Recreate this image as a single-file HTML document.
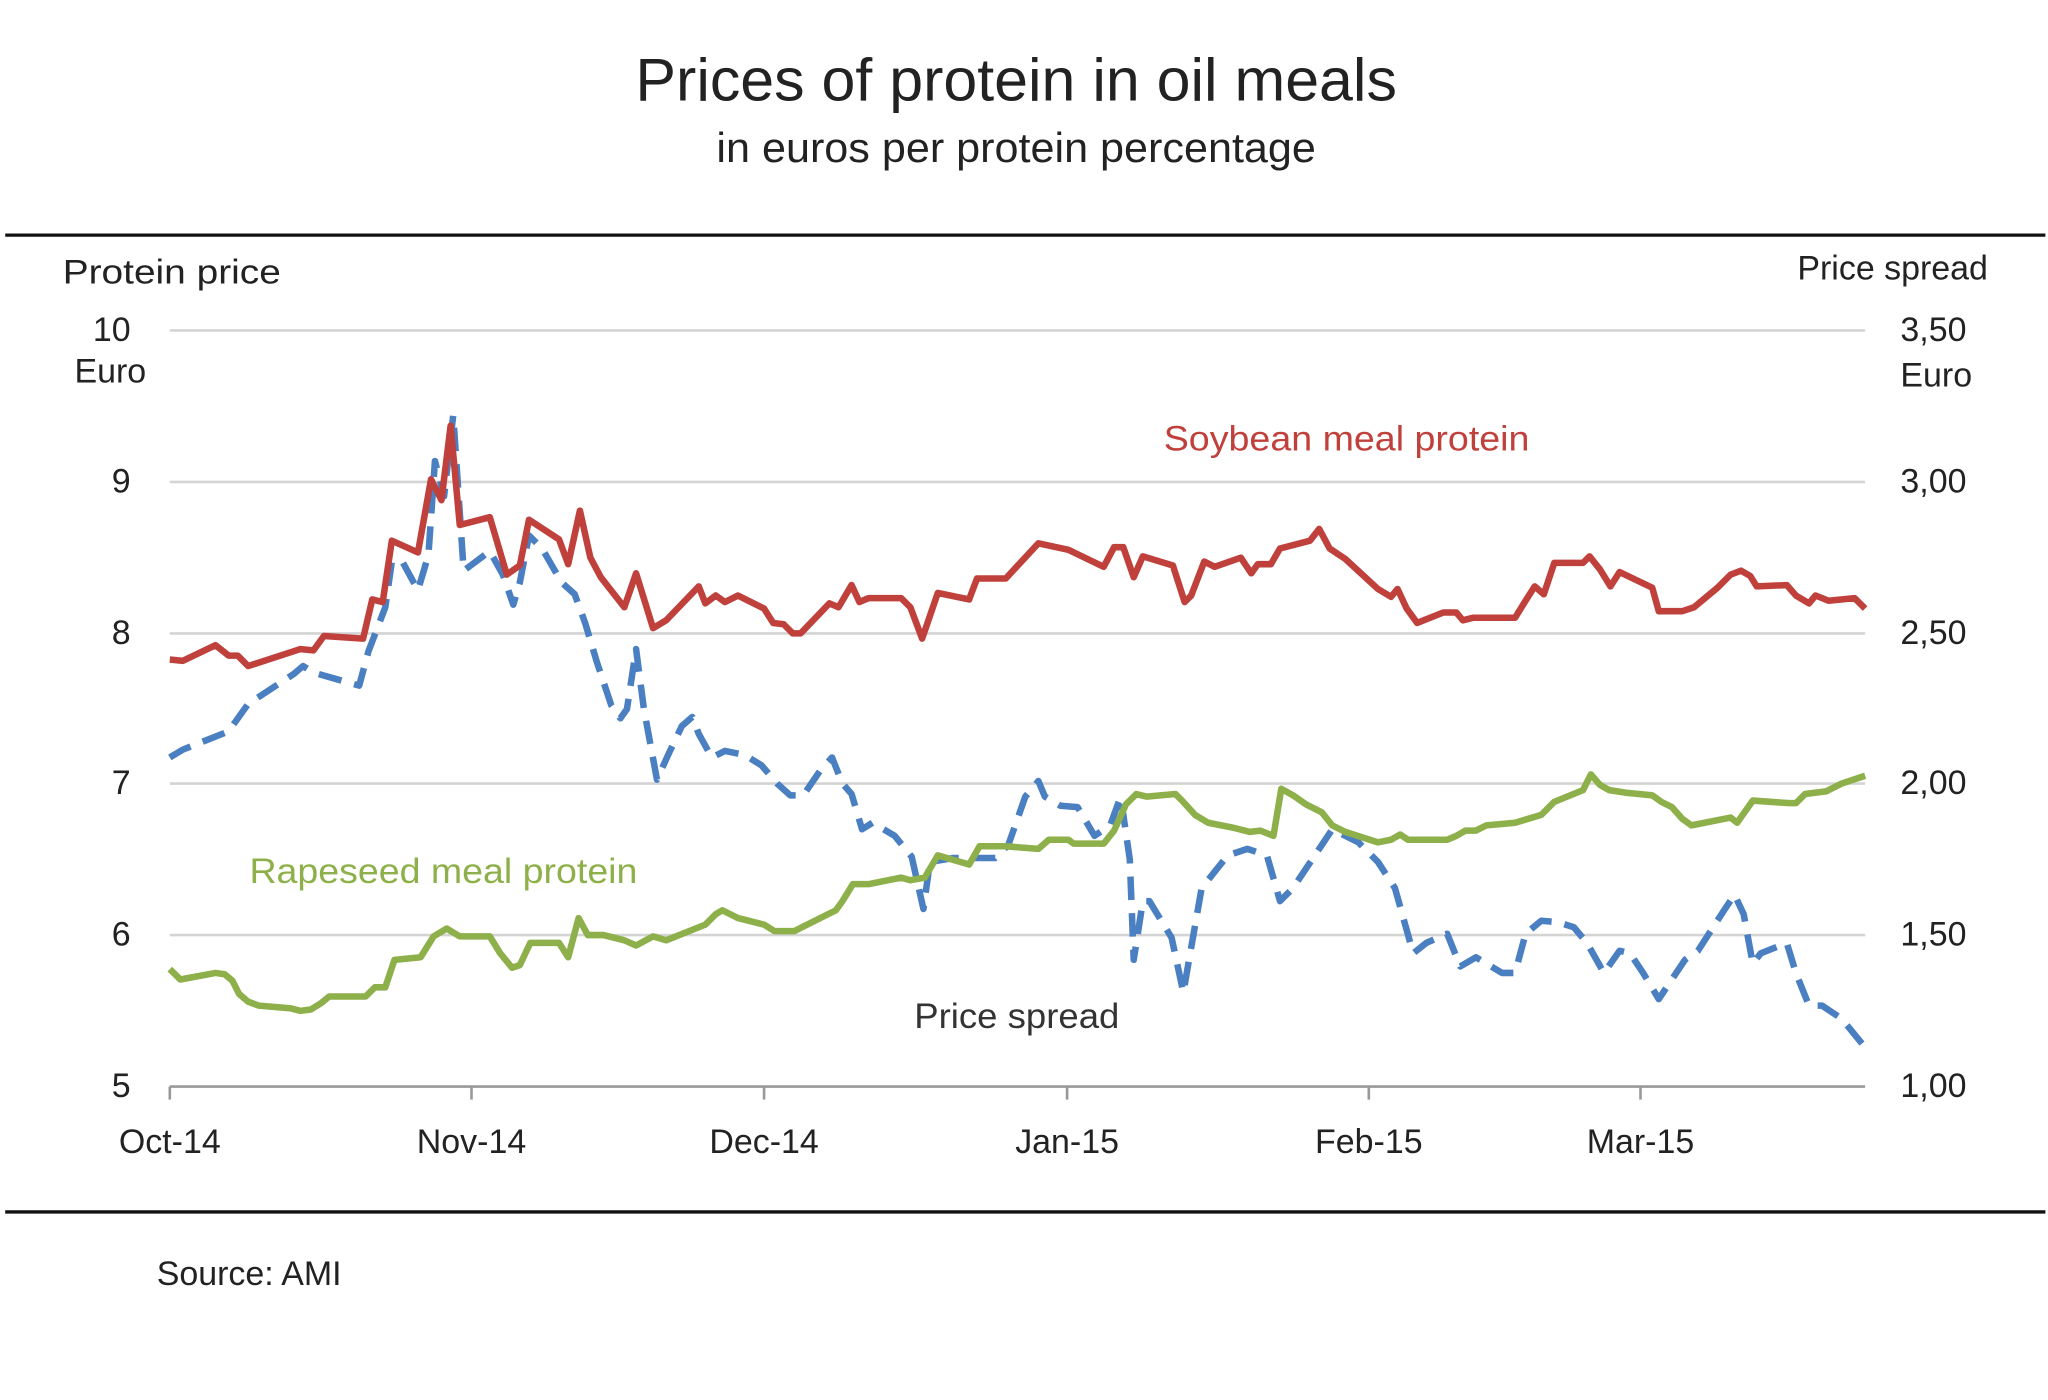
<!DOCTYPE html>
<html><head><meta charset="utf-8"><style>html,body{margin:0;padding:0;background:#fff}svg{display:block}</style></head>
<body>
<svg width="2048" height="1400" viewBox="0 0 1568 1072" preserveAspectRatio="none" xmlns="http://www.w3.org/2000/svg" font-family="'Liberation Sans', sans-serif">
<rect width="1568" height="1072" fill="#fff"/>
<text x="778" y="77" text-anchor="middle" font-size="46" fill="#222" textLength="583" lengthAdjust="spacingAndGlyphs">Prices of protein in oil meals</text>
<text x="778" y="124" text-anchor="middle" font-size="32" fill="#222" textLength="459" lengthAdjust="spacingAndGlyphs">in euros per protein percentage</text>
<line x1="4" y1="180" x2="1566" y2="180" stroke="#111" stroke-width="2.5"/>
<line x1="4" y1="928" x2="1566" y2="928" stroke="#111" stroke-width="2.5"/>
<g stroke="#d4d4d4" stroke-width="2">
<line x1="130" y1="253" x2="1428" y2="253"/><line x1="130" y1="369" x2="1428" y2="369"/><line x1="130" y1="485" x2="1428" y2="485"/><line x1="130" y1="600" x2="1428" y2="600"/><line x1="130" y1="716" x2="1428" y2="716"/>
</g>
<g stroke="#999" stroke-width="2">
<line x1="130" y1="832" x2="1428" y2="832"/>
<line x1="130" y1="832" x2="130" y2="842"/><line x1="361" y1="832" x2="361" y2="842"/><line x1="585" y1="832" x2="585" y2="842"/><line x1="817" y1="832" x2="817" y2="842"/><line x1="1048" y1="832" x2="1048" y2="842"/><line x1="1256" y1="832" x2="1256" y2="842"/>
</g>
<g font-size="26" fill="#222">
<text x="48" y="217" textLength="167" lengthAdjust="spacingAndGlyphs">Protein price</text>
<text x="1522" y="214" text-anchor="end">Price spread</text>
<g text-anchor="end"><text x="100" y="261">10</text><text x="100" y="377">9</text><text x="100" y="493">8</text><text x="100" y="608">7</text><text x="100" y="724">6</text><text x="100" y="840">5</text></g>
<text x="57" y="293">Euro</text>
<g><text x="1455" y="261">3,50</text><text x="1455" y="377">3,00</text><text x="1455" y="493">2,50</text><text x="1455" y="608">2,00</text><text x="1455" y="724">1,50</text><text x="1455" y="840">1,00</text><text x="1455" y="296">Euro</text></g>
<g text-anchor="middle"><text x="130" y="883">Oct-14</text><text x="361" y="883">Nov-14</text><text x="585" y="883">Dec-14</text><text x="817" y="883">Jan-15</text><text x="1048" y="883">Feb-15</text><text x="1256" y="883">Mar-15</text></g>
<text x="120" y="984">Source: AMI</text>
</g>
<text x="891" y="345" font-size="27" fill="#c0403c" textLength="280" lengthAdjust="spacingAndGlyphs">Soybean meal protein</text>
<text x="191" y="676" font-size="27" fill="#8db04a" textLength="297" lengthAdjust="spacingAndGlyphs">Rapeseed meal protein</text>
<text x="700" y="787" font-size="27" fill="#333" textLength="157" lengthAdjust="spacingAndGlyphs">Price spread</text>
<g fill="none" stroke-width="5" stroke-linejoin="round">
<polyline stroke="#4a7fc1" stroke-dasharray="18,10" points="130,580 140,574 175,560 190,539 225,516 232,510 240,515 275,525 282,499 295,465 300,430 308,430 320,452 328,425 333,353 340,380 347,318 355,437 375,422 385,440 393,463 398,446 405,410 415,420 430,446 440,455 448,477 457,507 468,540 475,550 480,543 487,497 493,543 503,597 512,577 522,556 530,549 535,562 545,580 555,575 570,578 583,586 595,600 605,609 615,609 628,590 637,580 645,600 652,608 660,635 668,630 685,640 698,656 707,696 712,660 730,657 762,657 772,647 785,610 795,598 800,610 812,617 825,618 838,640 850,632 858,610 865,658 868,735 875,690 880,690 897,718 906,760 910,737 920,680 940,655 955,650 970,655 980,690 990,680 1010,650 1020,635 1040,645 1055,660 1068,680 1075,705 1082,730 1092,722 1108,715 1118,740 1130,733 1150,745 1160,745 1168,715 1180,705 1192,706 1205,710 1215,722 1228,745 1240,728 1248,730 1258,745 1270,765 1290,735 1300,728 1320,697 1328,685 1335,700 1342,738 1348,730 1368,722 1375,745 1385,770 1395,770 1410,780 1428,802"/>
<polyline stroke="#8db04a" points="130,742 138,750 165,745 172,746 178,751 183,761 190,767 198,770 222,772 230,774 238,773 246,768 252,763 280,763 287,756 295,756 302,735 322,733 332,717 342,711 352,717 375,717 383,730 392,741 398,739 406,722 428,722 435,733 443,703 450,716 462,716 478,720 487,724 500,717 510,720 530,712 540,708 548,700 553,697 565,703 585,708 593,713 608,713 640,697 645,690 653,677 665,677 690,672 697,674 708,672 718,655 742,662 750,648 770,648 795,650 803,643 818,643 822,646 845,646 853,636 862,616 870,608 878,610 900,608 905,613 915,624 925,630 945,634 957,637 965,636 975,640 981,604 990,609 1000,616 1012,622 1020,632 1030,637 1055,645 1065,643 1072,639 1078,643 1108,643 1115,640 1122,636 1130,636 1138,632 1160,630 1180,624 1190,614 1212,605 1218,593 1225,601 1232,605 1245,607 1265,609 1272,614 1280,618 1288,627 1295,632 1325,626 1330,630 1342,613 1370,615 1375,615 1382,608 1398,606 1410,600 1428,594"/>
<polyline stroke="#c0403c" points="130,505 140,506 165,494 175,502 182,502 190,510 230,497 240,498 248,487 278,489 285,459 293,461 300,414 320,423 330,367 338,383 345,326 352,402 375,396 388,440 398,433 405,398 428,413 435,432 444,391 452,427 460,442 478,465 487,439 500,481 510,475 535,449 540,462 548,456 555,461 565,456 585,466 592,477 600,478 607,485 613,485 635,462 642,465 652,448 658,461 665,458 690,458 697,465 706,489 718,454 742,459 748,443 770,443 795,416 818,421 845,434 853,419 860,419 868,442 875,426 898,433 907,461 912,456 922,430 930,434 950,427 958,439 963,432 973,432 980,420 1003,414 1010,405 1018,420 1030,428 1055,451 1065,457 1070,451 1077,466 1085,477 1105,469 1115,469 1120,475 1128,473 1160,473 1168,460 1175,449 1182,455 1190,431 1212,431 1217,426 1225,436 1233,449 1240,438 1265,450 1270,468 1288,468 1297,465 1315,450 1325,440 1333,437 1340,441 1345,449 1368,448 1375,456 1385,462 1390,456 1400,460 1420,458 1428,466"/>
</g>
</svg>
</body></html>
